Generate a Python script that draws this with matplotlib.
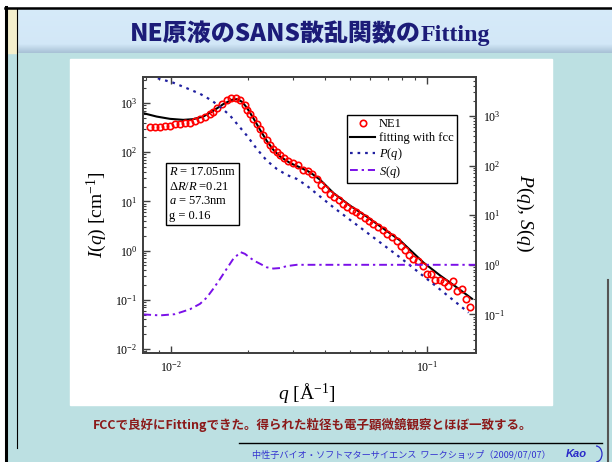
import numpy as np
import matplotlib
matplotlib.use("Agg")
import matplotlib.pyplot as plt
from matplotlib.ticker import LogLocator, LogFormatterMathtext, NullFormatter
from matplotlib.patches import Rectangle, Arc

plt.rcParams['font.family'] = ['Liberation Serif', 'DejaVu Serif']
plt.rcParams['mathtext.fontset'] = 'custom'
plt.rcParams['mathtext.rm'] = 'Liberation Serif'
plt.rcParams['mathtext.it'] = 'Liberation Serif:italic'
plt.rcParams['mathtext.bf'] = 'Liberation Serif:bold'

# measured SANS intensity, sample NE1
q_data = [0.00828, 0.00866, 0.00906, 0.00948, 0.00991, 0.01036, 0.01084, 0.01134, 0.01186, 0.01241,
          0.01298, 0.01358, 0.01420, 0.01464, 0.01517, 0.01578, 0.01651, 0.01711, 0.01789, 0.01860,
          0.01945, 0.01975, 0.02035, 0.02097, 0.02162, 0.02227, 0.02294, 0.02365, 0.02436, 0.02509,
          0.02587, 0.02665, 0.02763, 0.02872, 0.03004, 0.03144, 0.03288, 0.03439, 0.03545, 0.03708,
          0.03845, 0.03997, 0.04180, 0.04345, 0.04532, 0.04710, 0.04883, 0.05080, 0.05281, 0.05474,
          0.05726, 0.05935, 0.06169, 0.06453, 0.06714, 0.06996, 0.07319, 0.07612, 0.07912, 0.08203,
          0.08503, 0.08839, 0.09166, 0.09621, 0.09973, 0.1034, 0.1075, 0.1117, 0.1158, 0.1208,
          0.1260, 0.1306, 0.1361, 0.1413, 0.1472]
I_data = [323, 320, 332, 343, 348, 371, 382, 389, 400, 433,
          476, 522, 593, 670, 784, 946, 1156, 1288, 1288, 1172,
          915, 724, 593, 476, 371, 294, 225, 179, 141, 117,
          100, 88.6, 75.9, 66.9, 60.1, 53.7, 44.0, 40.6, 36.5, 28.5,
          21.8, 17.9, 14.3, 12.3, 10.5, 8.85, 7.55, 6.79, 5.98, 5.30,
          4.52, 4.00, 3.48, 3.03, 2.58, 2.21, 1.90, 1.57, 1.26, 1.05,
          0.829, 0.679, 0.607, 0.480, 0.337, 0.334, 0.250, 0.258, 0.228, 0.195,
          0.246, 0.149, 0.162, 0.104, 0.073]

# fcc model fit
q_fit = [0.0078, 0.00879, 0.00991, 0.01117, 0.01222, 0.01337, 0.01462, 0.01600, 0.01725, 0.01806,
         0.01890, 0.01977, 0.02097, 0.02227, 0.02365, 0.02509, 0.02665, 0.02919, 0.03192, 0.03439,
         0.03596, 0.03820, 0.04305, 0.05003, 0.05813, 0.06752, 0.07843, 0.0967, 0.1124, 0.1306, 0.1495]
I_fit = [621, 530, 476, 454, 469, 530, 692, 946, 1156, 1194,
         1067, 807, 492, 285, 170, 112, 81.8, 60.1, 48.9, 40.6,
         34.8, 27.5, 14.8, 8.18, 4.89, 2.79, 1.60, 0.571, 0.311, 0.178, 0.105]

# form factor and structure factor (right axis)
q_P = [0.0078, 0.00920, 0.01021, 0.01151, 0.01298, 0.01442, 0.01578, 0.01700, 0.01833, 0.01977,
       0.02163, 0.02365, 0.02588, 0.02831, 0.03097, 0.03388, 0.04305, 0.05813, 0.07843, 0.1058, 0.1450]
P_q = [7000, 5460, 4690, 3645, 2807, 2056, 1438, 1023, 643, 404,
       217, 126, 85.7, 64.8, 53.9, 39.4, 14.4, 4.49, 1.40, 0.407, 0.109]
q_S = [0.0078, 0.00906, 0.01036, 0.01186, 0.01298, 0.01379, 0.01462, 0.01553, 0.01650, 0.01751,
       0.01870, 0.01945, 0.02035, 0.02130, 0.02227, 0.02365, 0.02510, 0.02665, 0.02831, 0.03097,
       0.0382, 0.155]
S_q = [0.100, 0.0955, 0.101, 0.127, 0.163, 0.218, 0.327, 0.514, 0.830, 1.32,
       1.80, 1.66, 1.38, 1.18, 1.05, 0.890, 0.840, 0.860, 0.942, 1.0,
       1.0, 1.0]

fit_params = "$R$ = 17.05nm\n$\\Delta R/R$ =0.21\n$a$ = 57.3nm\ng = 0.16"

W, H = 612, 462
fig = plt.figure(figsize=(W / 100, H / 100), dpi=100)
fig.patch.set_facecolor('white')

# slide background, drawn in pixel units
bg = fig.add_axes([0, 0, 1, 1])
bg.set_xlim(0, W)
bg.set_ylim(H, 0)
bg.axis('off')
teal = '#bce0e2'
bg.add_patch(Rectangle((6, 8), W, H, color=teal, zorder=0))
grad = np.linspace(0, 1, 60)[:, None]
c_top = np.array([0.84, 0.92, 0.98])
c_bot = np.array([0.66, 0.76, 0.84])
mix = np.clip((grad - 0.8) / 0.2, 0, 1) * 0.9 + grad * 0.1
img = c_top[None, None, :] * (1 - mix[..., None]) + c_bot[None, None, :] * mix[..., None]
bg.imshow(img, extent=[17, W, 53, 9], aspect='auto', zorder=1)
bg.add_patch(Rectangle((7, 9), 10, 44, color='#f4efcc', zorder=1))
bg.plot([6, 6], [7, H], color='black', lw=2.2, zorder=3)
bg.plot([5, W], [8, 8], color='black', lw=1.8, zorder=3)
bg.plot([17, 17], [9, 448], color='black', lw=0.8, zorder=3)
bg.plot([239, 602], [443, 443], color='black', lw=1.0, zorder=3)
bg.plot([608, 608], [280, H], color='#555555', lw=1.5, zorder=3)
bg.add_patch(Rectangle((70, 59), 482, 346, color='white', zorder=2))

# title
r = fig.canvas.get_renderer()
t1 = fig.text(0, 1 - 41 / H, "NE原液のSANS散乱関数の", family=['Noto Sans CJK JP', 'DejaVu Sans'],
              weight='heavy', fontsize=17.3, color='#1c1c78', va='baseline', ha='left')
t2 = fig.text(0, 1 - 41 / H, "Fitting", family='Liberation Serif', weight='bold',
              fontsize=17.3, color='#1c1c78', va='baseline', ha='left')
w1 = t1.get_window_extent(r).width / fig.bbox.width
w2 = t2.get_window_extent(r).width / fig.bbox.width
x0 = 0.506 - (w1 + w2) / 2
t1.set_x(x0)
t2.set_x(x0 + w1)

fig.text(313 / W, 1 - 425 / H, "FCCで良好にFittingできた。得られた粒径も電子顕微鏡観察とほぼ一致する。",
         family=['Noto Sans CJK JP', 'DejaVu Sans'], weight='bold', fontsize=9,
         color='#8b1a1a', ha='center', va='center')
fig.text(252 / W, 1 - 455 / H, "中性子バイオ・ソフトマターサイエンス  ワークショップ（2009/07/07）",
         family=['Noto Sans CJK JP', 'DejaVu Sans'], fontsize=6.6, color='#3535d0',
         ha='left', va='center')
fig.text(566 / W, 1 - 454 / H, "Kao", family='Liberation Sans', style='italic', weight='bold',
         fontsize=8, color='#2a2ac8', ha='left', va='center')
bg.add_patch(Arc((596, 454), 12, 16, theta1=-90, theta2=90, color='#2a2ac8', lw=0.9, zorder=4))

# chart
ax = fig.add_axes([143 / W, 1 - 353 / H, 333 / W, 276 / H])
ax2 = ax.twinx()
ax.set_xscale('log')
ax.set_yscale('log')
ax2.set_yscale('log')

ax.plot(q_fit, I_fit, color='black', lw=1.5, zorder=3, label='fitting with fcc')
ax.plot(q_data, I_data, 'o', mfc='none', mec='#ff0000', ms=4.6, mew=1.2, zorder=4, label='NE1')
ax2.plot(q_P, P_q, color='#2020a0', lw=1.6, ls=(0, (1.2, 2.2)), label='$P$($q$)')
ax2.plot(q_S, S_q, color='#7a10e8', lw=1.4, ls=(0, (4, 2, 1.2, 2)), label='$S$($q$)')

ax.set_xlim(0.00778, 0.155)
ax.set_ylim(10 ** -2.081, 10 ** 3.528)
ax2.set_ylim(10 ** -1.778, 10 ** 3.786)

for a in (ax, ax2):
    a.yaxis.set_major_locator(LogLocator(base=10, numticks=20))
    a.yaxis.set_minor_locator(LogLocator(base=10, subs=np.arange(2, 10), numticks=20))
    a.yaxis.set_major_formatter(LogFormatterMathtext())
    a.yaxis.set_minor_formatter(NullFormatter())
    for s in a.spines.values():
        s.set_color('#404040')
        s.set_linewidth(1.3)
ax.xaxis.set_major_locator(LogLocator(base=10, numticks=20))
ax.xaxis.set_minor_locator(LogLocator(base=10, subs=np.arange(2, 10), numticks=20))
ax.xaxis.set_major_formatter(LogFormatterMathtext())
ax.xaxis.set_minor_formatter(NullFormatter())

ax.tick_params(which='both', direction='in', top=True, right=False, labelsize=8.5, color='#404040')
ax.tick_params(axis='x', which='both', pad=5)
ax.tick_params(axis='y', which='both', pad=4)
ax2.tick_params(which='both', direction='in', labelsize=8.5, pad=5, color='#404040')
for a in (ax, ax2):
    a.tick_params(which='major', length=5, width=1.0)
    a.tick_params(which='minor', length=2.5, width=0.8)

fig.text(97 / W, 1 - 215 / H, "$I$($q$) [cm$^{-1}$]", fontsize=14, rotation=90, ha='center', va='center')
fig.text(525 / W, 1 - 213 / H, "$P$($q$), $S$($q$)", fontsize=14, rotation=270, ha='center', va='center')
fig.text(307 / W, 1 - 394 / H, "$q$ [Å$^{-1}$]", fontsize=14, ha='center', va='center')

h1, l1 = ax.get_legend_handles_labels()
h2, l2 = ax2.get_legend_handles_labels()
leg = ax2.legend([h1[1], h1[0]] + h2, [l1[1], l1[0]] + l2, loc='upper left',
                 bbox_to_anchor=(0.613, 0.862), fontsize=9, frameon=True, fancybox=False,
                 framealpha=1, edgecolor='black', labelspacing=0.15, handlelength=2.0,
                 handletextpad=0.3, borderpad=0.25, borderaxespad=0)
leg.get_frame().set_linewidth(1.0)

ax2.text(0.078, 0.678, fit_params, transform=ax.transAxes, fontsize=9, va='top', ha='left',
         linespacing=1.3, bbox=dict(boxstyle='square,pad=0.25', fc='white', ec='black', lw=1.0))

fig.savefig('out.png', dpi=100)
